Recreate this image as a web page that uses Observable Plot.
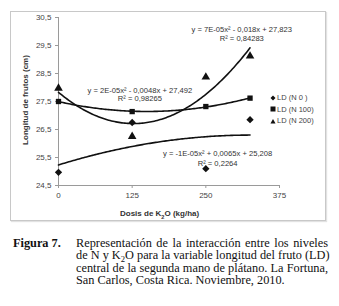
<!DOCTYPE html>
<html><head><meta charset="utf-8">
<script src="https://cdn.jsdelivr.net/npm/d3@7"></script>
<script src="https://cdn.jsdelivr.net/npm/@observablehq/plot@0.6"></script>
<style>
body{margin:0;background:#fff;}
#wrap{position:relative;width:339px;height:306px;overflow:hidden;font-family:"Liberation Sans",Arial,sans-serif;}
#box{position:absolute;left:10px;top:11px;width:314px;height:208px;border:1px solid #c8c8c8;box-shadow:1px 1px 1px #e2e2e2;}
#plot{position:absolute;left:0;top:0;}
.ax{position:absolute;font-weight:bold;font-size:8px;color:#333;white-space:nowrap;}
#legend{position:absolute;left:270px;top:92px;font-size:7.5px;color:#444;}
#legend div{height:11.5px;display:flex;align-items:center;}
#legend svg{margin-right:1px;}
#cap{position:absolute;left:0;top:237px;width:339px;font-family:"Liberation Serif","Times New Roman",serif;font-size:12.3px;line-height:12.3px;color:#111;}
#cap .fig{position:absolute;left:13px;top:0;font-weight:bold;white-space:nowrap;}
#cap .body{position:absolute;left:76px;top:0;width:252px;}
#cap .body div{white-space:nowrap;height:12.3px;}
#cap .body div.j{text-align:justify;text-align-last:justify;}
.sb{position:relative;top:2.5px;font-size:0.7em;}
</style></head>
<body><div id="wrap">
<div id="box"></div>
<div id="plot"></div>
<div class="ax" style="left:120px;top:209px;">Dosis de K<span class="sb">2</span>O (kg/ha)</div>
<div class="ax" style="left:25px;top:100px;transform:translate(-50%,-50%) rotate(-90deg);">Longitud de frutos (cm)</div>
<div id="legend"></div>
<div id="cap">
<div class="fig">Figura 7.</div>
<div class="body">
<div class="j">Representación de la interacción entre los niveles</div>
<div class="j">de N y K<span class="sb">2</span>O para la variable longitud del fruto (LD)</div>
<div class="j">central de la segunda mano de plátano. La Fortuna,</div>
<div>San Carlos, Costa Rica. Noviembre, 2010.</div>
</div></div>
</div>
<script>
// ---- data ----
const doses = [0, 125, 250, 325];
const seriesNames = ["LD (N 0 )", "LD (N 100)", "LD (N 200)"];
const ldN0   = [24.97, 26.75, 25.10, 26.85];
const ldN100 = [27.50, 27.14, 27.32, 27.62];
const ldN200 = [27.97, 26.25, 28.37, 29.12];
const xTicks = [0, 125, 250, 375];
const yTicks = [24.5, 25.5, 26.5, 27.5, 28.5, 29.5, 30.5];
const eqTexts = [
  ["y = -1E-05x² + 0,0065x + 25,208", "R² = 0,2264"],
  ["y = 2E-05x² - 0,0048x + 27,492", "R² = 0,98265"],
  ["y = 7E-05x² - 0,018x + 27,823", "R² = 0,84283"]
];

// ---- layout / style ----
const symbols = ["diamond2", "square", "triangle"];
const symR = [3.6, 3.0, 3.4];
const eqPos = [[270, 25.64, 25.29], [138, 27.89, 27.60], [311, 30.07, 29.75]];

const seriesVals = [ldN0, ldN100, ldN200];
const points = [];
seriesVals.forEach((vals, s) => vals.forEach((v, i) => points.push({x: doses[i], y: v, s})));

// least-squares quadratic trend line (as the spreadsheet trendlines)
function quadFit(xs, ys) {
  const S = k => d3.sum(xs, x => x ** k);
  const T = k => d3.sum(xs, (x, i) => x ** k * ys[i]);
  const A = [[S(4), S(3), S(2)], [S(3), S(2), S(1)], [S(2), S(1), xs.length]];
  const b = [T(2), T(1), T(0)];
  const det = m => m[0][0]*(m[1][1]*m[2][2]-m[1][2]*m[2][1]) - m[0][1]*(m[1][0]*m[2][2]-m[1][2]*m[2][0]) + m[0][2]*(m[1][0]*m[2][1]-m[1][1]*m[2][0]);
  const D = det(A);
  return [0, 1, 2].map(c => det(A.map((row, r) => row.map((v, k) => k === c ? b[r] : v))) / D);
}
const trend = [];
seriesVals.forEach((vals, s) => {
  const [a, b, c] = quadFit(doses, vals);
  d3.range(0, d3.max(doses) + 0.1, 2.5).forEach(x => trend.push({x, y: a * x * x + b * x + c, s}));
});

const labels = [];
eqTexts.forEach((t, s) => {
  labels.push({x: eqPos[s][0], y: eqPos[s][1], t: t[0]});
  labels.push({x: eqPos[s][0], y: eqPos[s][2], t: t[1]});
});

const fmt = d => d.toFixed(1).replace(".", ",");
const chart = Plot.plot({
  width: 339, height: 225,
  marginLeft: 58, marginRight: 60, marginTop: 17, marginBottom: 40,
  style: {fontFamily: "Liberation Sans, Arial, sans-serif", fontSize: "8px", color: "#333", background: "transparent", overflow: "visible"},
  x: {domain: [0, 375]},
  y: {domain: [24.5, 30.5]},
  marks: [
    Plot.axisY({ticks: yTicks, tickFormat: fmt, tickSize: 3, tickPadding: 4, stroke: "#9a9a9a", fill: "#444", label: null}),
    Plot.axisX({ticks: xTicks, tickFormat: d => String(d), tickSize: 3, tickPadding: 4, stroke: "#9a9a9a", fill: "#444", label: null}),
    Plot.ruleX([0], {stroke: "#9a9a9a"}),
    Plot.ruleY([24.5], {stroke: "#9a9a9a"}),
    Plot.line(trend, {x: "x", y: "y", z: "s", stroke: "#111", strokeWidth: 1.6}),
    Plot.dot(points, {x: "x", y: "y", symbol: d => symbols[d.s], r: d => symR[d.s], fill: "#111", stroke: "none"}),
    Plot.text(labels, {x: "x", y: "y", text: "t", fill: "#333", fontSize: 7.6})
  ]
});
document.getElementById("plot").appendChild(chart);

// legend
const lg = document.getElementById("legend");
const legendPaths = [
  '<path d="M3,0.5 L5.5,3 L3,5.5 L0.5,3Z" fill="#111"/>',
  '<rect x="0.5" y="0.5" width="5" height="5" fill="#111"/>',
  '<path d="M3,1 L5.5,5.5 L0.5,5.5Z" fill="#111"/>'
];
seriesNames.forEach((n, i) => {
  const row = document.createElement("div");
  row.innerHTML = '<svg width="6" height="6">' + legendPaths[i] + '</svg><span>' + n + '</span>';
  lg.appendChild(row);
});
</script>
</body></html>
